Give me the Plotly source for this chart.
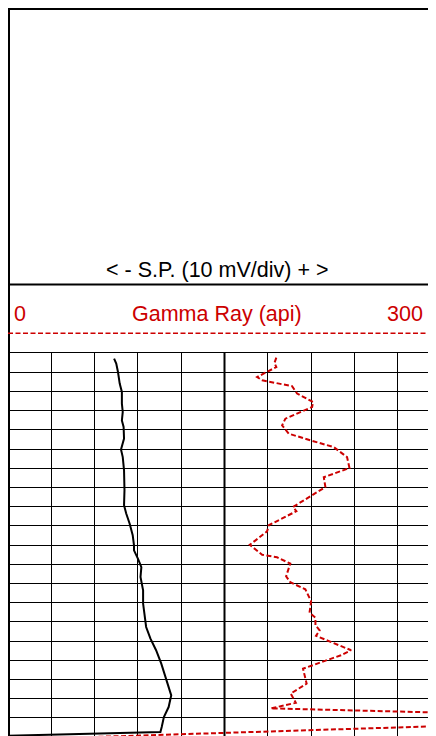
import plotly.graph_objects as go

# ---------------- data ----------------
depth_sp = [1002.9, 1005.5, 1009.9, 1015.9, 1020.3, 1026.4, 1030.7, 1035.1, 1038.5,
            1044.6, 1050.3, 1054.2, 1061.1, 1071.5, 1079.3, 1083.6, 1088.9, 1094.9,
            1100.2, 1102.8, 1107.1, 1111.5, 1116.7, 1123.6, 1130.5, 1135.7, 1142.7,
            1148.8, 1154.8, 1161.8, 1167.0, 1174.0, 1178.3, 1184.4, 1189.6, 1194.8,
            1197.4, 1199.3]
sp_mv = [-35.5, -35.0, -34.6, -34.2, -33.7, -33.7, -33.5, -33.7, -33.3,
         -33.2, -33.9, -33.5, -33.2, -33.1, -33.2, -32.7, -31.9, -31.2,
         -30.9, -30.9, -30.0, -29.2, -29.4, -28.8, -28.8, -28.5, -28.1,
         -27.1, -25.8, -24.6, -23.9, -22.9, -22.3, -22.9, -24.0, -24.5,
         -24.8, -60.0]

depth_gr = [1002.4, 1005.2, 1007.3, 1012.5, 1014.2, 1017.3, 1021.1, 1025.5, 1028.1,
            1034.2, 1037.7, 1042.0, 1045.5, 1049.0, 1054.2, 1059.9, 1064.7, 1069.8,
            1080.2, 1082.4, 1089.7, 1092.9, 1099.9, 1105.1, 1106.4, 1109.7, 1116.3,
            1119.4, 1123.1, 1129.3, 1135.3, 1137.9, 1141.8, 1144.4, 1147.3, 1154.8,
            1157.4, 1164.4, 1172.2, 1177.4, 1182.2, 1185.1, 1190.4, 1201.4]
gr_api = [185.9, 184.6, 185.9, 172.6, 176.1, 196.8, 200.3, 211.4, 210.7,
          192.2, 189.9, 194.5, 209.5, 225.7, 234.9, 236.6, 218.8, 219.9,
          197.5, 199.8, 180.7, 179.5, 167.5, 176.1, 186.4, 195.6, 192.7,
          195.6, 206.0, 210.0, 208.9, 213.0, 213.0, 215.9, 213.4, 237.7,
          230.7, 204.4, 206.9, 195.9, 199.4, 182.1, 465.0, 0.0]

gr_range = [0, 300]
sp_range = [-60, 40]
depth_range = [1200, 1000]
gr_ticks_label = ["0", "Gamma Ray (api)", "300"]
sp_title = "< - S.P. (10 mV/div) + >"

RED = "#cc0000"
FONT = "Liberation Sans, Arial, sans-serif"
FS = 21.5

# ---------------- layout geometry ----------------
W, H = 440, 740
ML, MR, MT, MB = 0, 6.7, 345, 11
PW = W - ML - MR
PH = H - MT - MB


def py(page_y):
    """page pixel y -> paper coordinate"""
    fy = page_y - 8
    return (H - MB - fy) / PH


def px(page_x):
    fx = page_x - 8
    return (fx - ML) / PW


fig = go.Figure()

fig.add_trace(go.Scatter(
    x=gr_api, y=depth_gr, xaxis="x", yaxis="y", mode="lines",
    line=dict(color=RED, width=2, dash="5px,2.5px"),
    showlegend=False, hoverinfo="skip"))

fig.add_trace(go.Scatter(
    x=sp_mv, y=depth_sp, xaxis="x2", yaxis="y", mode="lines",
    line=dict(color="black", width=2),
    showlegend=False, hoverinfo="skip"))

shapes = [
    # top border
    dict(type="line", xref="paper", yref="paper", x0=0, x1=1.2, y0=py(8), y1=py(8),
         line=dict(color="black", width=4)),
    # left border
    dict(type="line", xref="paper", yref="paper", x0=0, x1=0, y0=py(745), y1=py(8),
         line=dict(color="black", width=4)),
    # separator under the S.P. panel
    dict(type="line", xref="paper", yref="paper", x0=0, x1=1.2, y0=py(284.5), y1=py(284.5),
         line=dict(color="black", width=2)),
    # gamma ray header dashed line
    dict(type="line", xref="paper", yref="paper", x0=0, x1=1.2, y0=py(333.3), y1=py(333.3),
         line=dict(color=RED, width=1.5, dash="5px,2.5px")),
    # centre track line
    dict(type="line", xref="x", yref="paper", x0=150, x1=150, y0=-0.1, y1=1,
         line=dict(color="black", width=2)),
]

annotations = [
    dict(text=sp_title, xref="paper", yref="paper", x=px(217), y=py(269.5),
         xanchor="center", yanchor="middle", showarrow=False,
         font=dict(family=FONT, size=FS, color="black")),
    dict(text=gr_ticks_label[0], xref="paper", yref="paper", x=px(12), y=py(314),
         xanchor="left", yanchor="middle", showarrow=False,
         font=dict(family=FONT, size=FS, color=RED)),
    dict(text=gr_ticks_label[1], xref="paper", yref="paper", x=px(217), y=py(314),
         xanchor="center", yanchor="middle", showarrow=False,
         font=dict(family=FONT, size=FS, color=RED)),
    dict(text=gr_ticks_label[2], xref="paper", yref="paper", x=px(425), y=py(314),
         xanchor="right", yanchor="middle", showarrow=False,
         font=dict(family=FONT, size=FS, color=RED)),
]

fig.update_layout(
    width=W, height=H,
    margin=dict(l=ML, r=MR, t=MT, b=MB, pad=0),
    paper_bgcolor="white", plot_bgcolor="white",
    showlegend=False,
    shapes=shapes, annotations=annotations,
    xaxis=dict(range=gr_range, dtick=30, tick0=0, showgrid=True, gridcolor="black",
               gridwidth=1, showticklabels=False, ticks="", zeroline=False,
               side="top", showline=True, linecolor="black", linewidth=1),
    xaxis2=dict(range=sp_range, overlaying="x", visible=False, showgrid=False,
                zeroline=False),
    yaxis=dict(range=depth_range, dtick=10, tick0=1000, showgrid=True, gridcolor="black",
               gridwidth=1, showticklabels=False, ticks="", zeroline=False,
               showline=False),
)

fig.write_html("out.html")
